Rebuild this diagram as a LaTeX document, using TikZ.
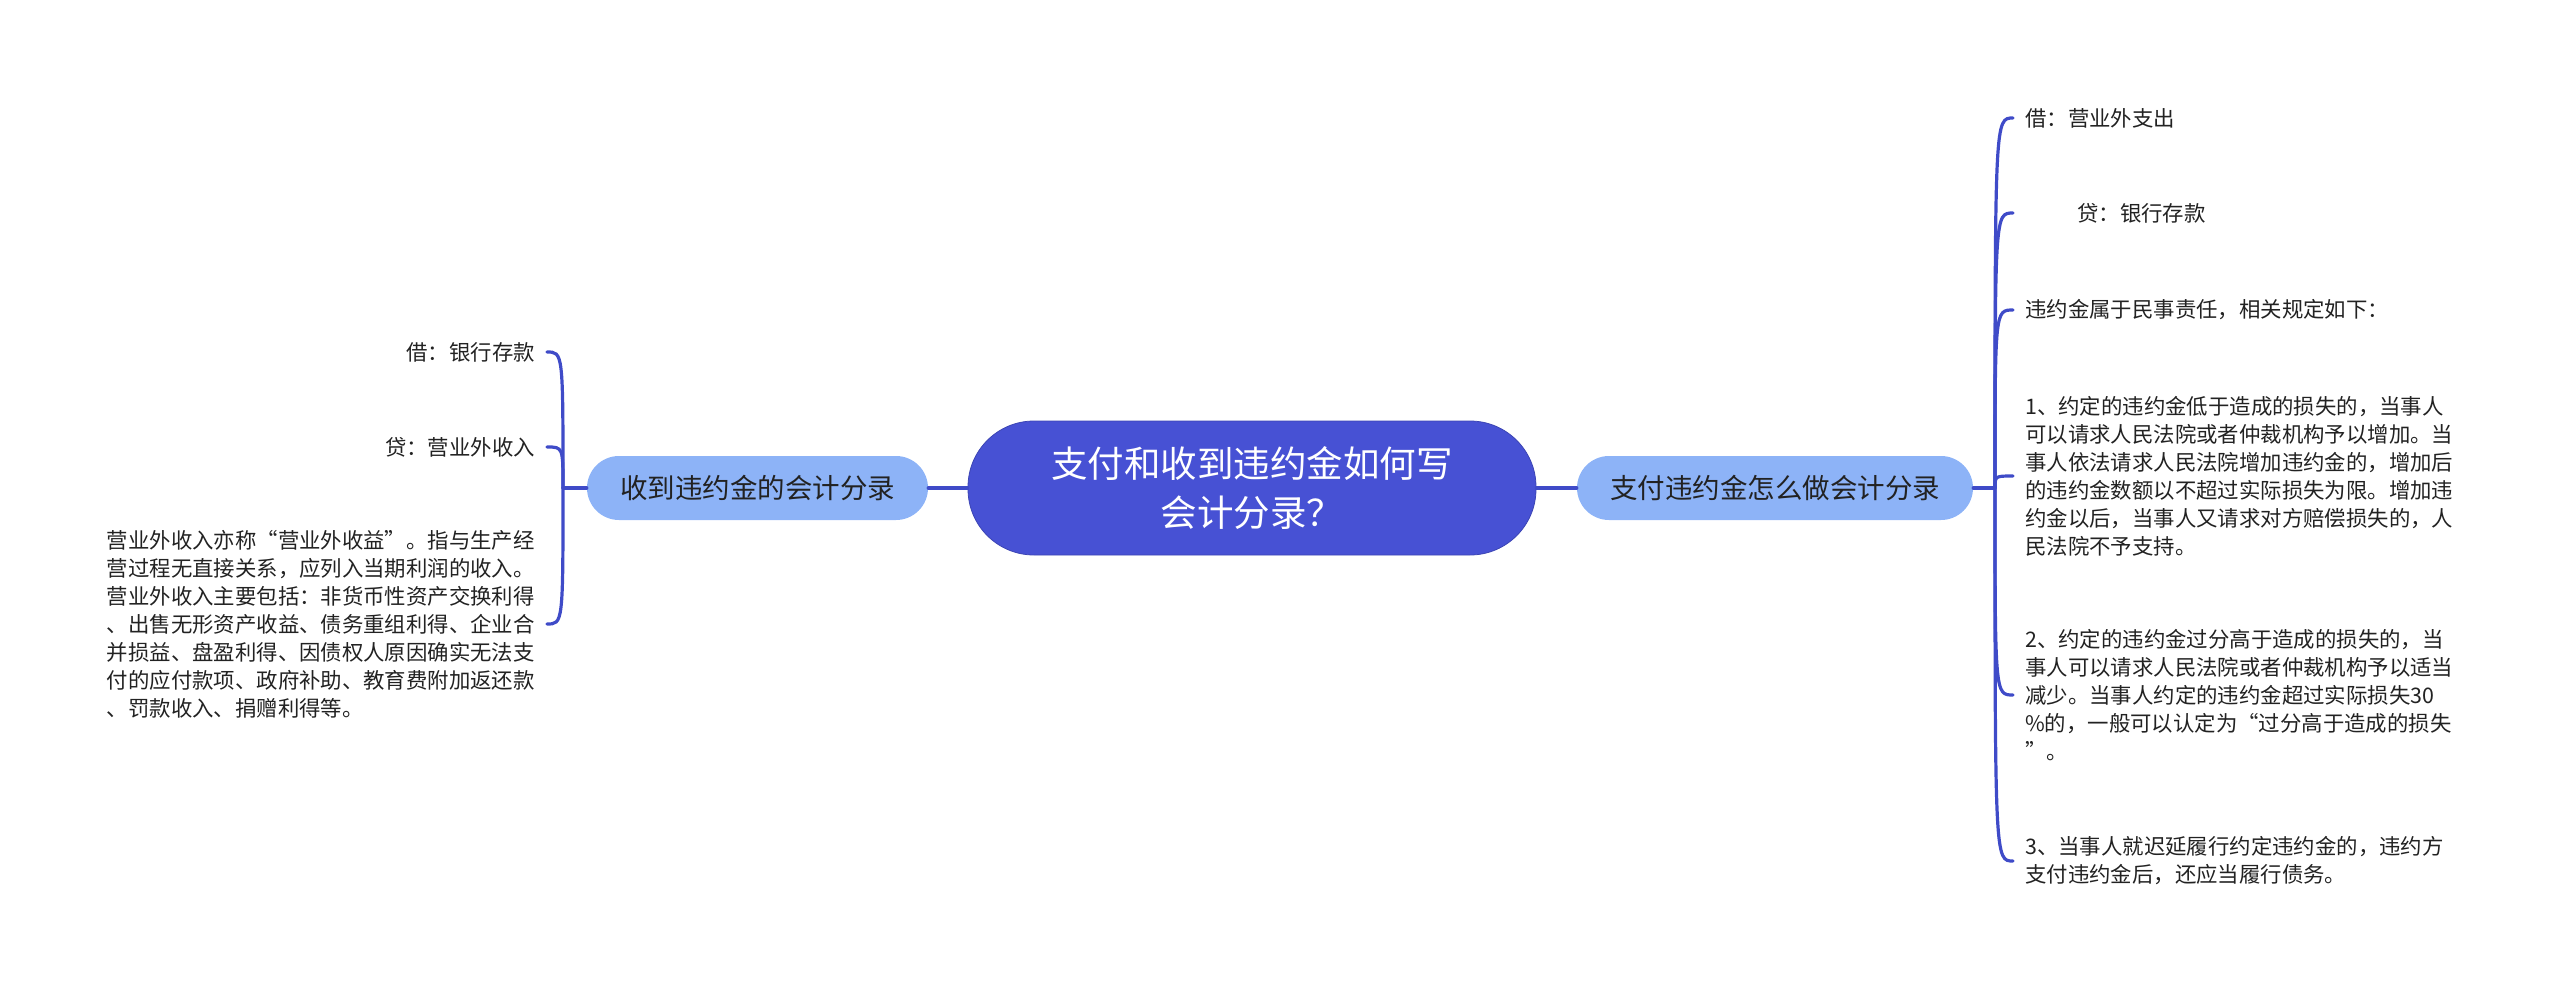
\documentclass[tikz,border=0pt]{standalone}
\usepackage{fontspec}
\setmainfont{Noto Sans CJK SC}
\definecolor{rootfill}{HTML}{4751D4}
\definecolor{linecol}{HTML}{3F4BC8}
\definecolor{childfill}{HTML}{8DB3F7}
\definecolor{txt}{HTML}{222222}
\begin{document}
\begin{tikzpicture}[x=1pt,y=-1pt,
  rootbox/.style={fill=rootfill, draw=rootfill!85!black, line width=0.8pt, rounded corners=66pt,
    minimum width=568pt, minimum height=134pt, inner sep=0pt, text=white, align=center,
    font=\fontsize{36.5}{49}\selectfont},
  childbox/.style={fill=childfill, rounded corners=32pt, minimum height=64pt, inner sep=0pt,
    text=txt, font=\fontsize{27.5}{33}\selectfont},
  leafL/.style={anchor=east, inner xsep=12pt, inner ysep=0pt, text=txt, align=left,
    font=\fontsize{21.4}{28}\selectfont},
  leafR/.style={anchor=west, inner xsep=12pt, inner ysep=0pt, text=txt, align=left,
    font=\fontsize{21.4}{28}\selectfont},
  conn/.style={draw=linecol, line width=3.2pt, line cap=round}
]
\useasboundingbox (0,0) rectangle (2560,990);

% root and children
\node[rootbox] (root) at (1252,488) {支付和收到违约金如何写\\会计分录？};
\node[childbox, minimum width=341pt] (cl) at (757.5,488) {收到违约金的会计分录};
\node[childbox, minimum width=396pt] (cr) at (1775,488) {支付违约金怎么做会计分录};

\coordinate (JL) at (563,488);
\coordinate (JR) at (1995,488);

% left leaves
\node[leafL] (l1) at (547,352) {借：银行存款};
\node[leafL] (l2) at (547,447) {贷：营业外收入};
\node[leafL] (l3) at (547,624) {营业外收入亦称“营业外收益”。指与生产经\\
营过程无直接关系，应列入当期利润的收入。\\
营业外收入主要包括：非货币性资产交换利得\\
、出售无形资产收益、债务重组利得、企业合\\
并损益、盘盈利得、因债权人原因确实无法支\\
付的应付款项、政府补助、教育费附加返还款\\
、罚款收入、捐赠利得等。};

% right leaves
\node[leafR] (r1) at (2013,118) {借：营业外支出};
\node[leafR] (r2) at (2013,213) {\hspace*{52pt}贷：银行存款};
\node[leafR] (r3) at (2013,310) {违约金属于民事责任，相关规定如下：};
\node[leafR] (r4) at (2013,476) {1、约定的违约金低于造成的损失的，当事人\\
可以请求人民法院或者仲裁机构予以增加。当\\
事人依法请求人民法院增加违约金的，增加后\\
的违约金数额以不超过实际损失为限。增加违\\
约金以后，当事人又请求对方赔偿损失的，人\\
民法院不予支持。};
\node[leafR] (r5) at (2013,695) {2、约定的违约金过分高于造成的损失的，当\\
事人可以请求人民法院或者仲裁机构予以适当\\
减少。当事人约定的违约金超过实际损失30\\
\%的，一般可以认定为“过分高于造成的损失\\
”。};
\node[leafR] (r6) at (2013,861) {3、当事人就迟延履行约定违约金的，违约方\\
支付违约金后，还应当履行债务。};

% connectors
\draw[conn] (root.west) -- (cl.east);
\draw[conn] (root.east) -- (cr.west);
\draw[conn] (cl.west) -- (JL);
\draw[conn] (cr.east) -- (JR);
\foreach \n in {l1,l2,l3}{
  \draw[conn] (JL) .. controls (JL |- \n.east) .. (\n.east);
}
\foreach \n in {r1,r2,r3,r4,r5,r6}{
  \draw[conn] (JR) .. controls (JR |- \n.west) .. (\n.west);
}
\end{tikzpicture}
\end{document}
